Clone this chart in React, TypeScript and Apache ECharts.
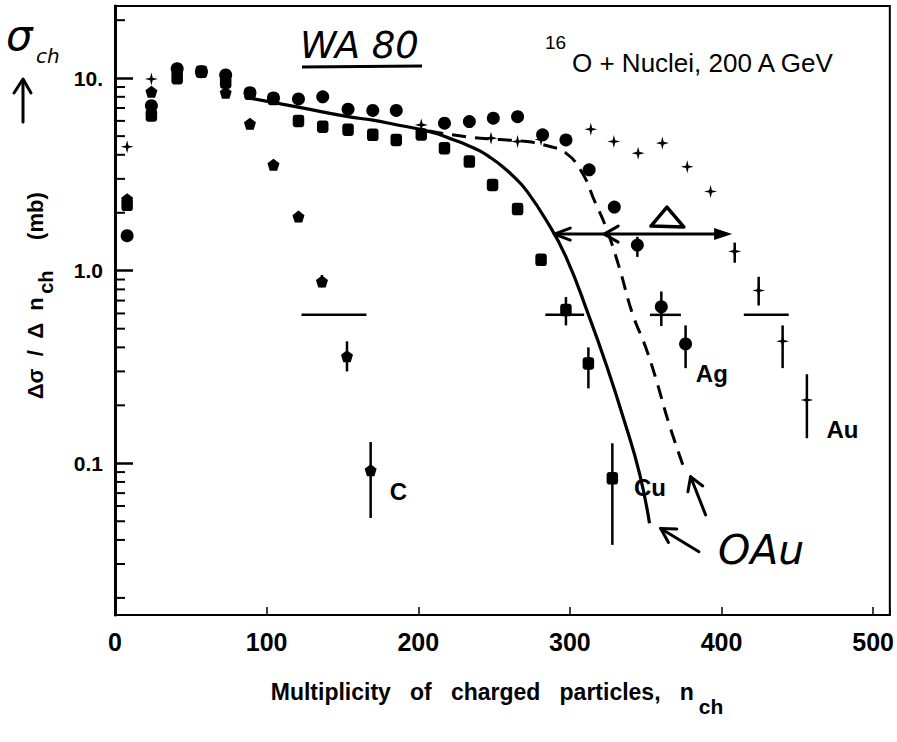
import React, { useEffect, useRef } from 'react';
import * as echarts from 'echarts';

// ---------- axis ----------
const xTickLabels = ['0', '100', '200', '300', '400', '500'];
const yDecades = [0.1, 1, 10];
const yDecadeLabels = ['0.1', '1.0', '10.'];
const yMinorTicks = [0.02, 0.03, 0.04, 0.05, 0.06, 0.07, 0.08, 0.09, 0.2, 0.3, 0.4, 0.5, 0.6, 0.7, 0.8, 0.9, 2, 3, 4, 5, 6, 7, 8, 9, 20];

// ---------- data ----------
const cX = [8, 24, 41, 57, 73, 89, 104.5, 121, 136.5, 153, 168.6];
const cY = [2.35, 8.5, 10.5, 10.8, 8.4, 5.8, 3.55, 1.91, 0.88, 0.36, 0.092];

const cuX = [8, 24, 41, 57, 73, 89, 104.5, 121, 137, 153.7, 170, 185.5, 202, 217.3, 233.7, 249, 265.5, 281, 297.4, 312.2, 328];
const cuY = [2.2, 6.4, 10.0, 10.8, 9.5, 8.3, 7.8, 6.0, 5.6, 5.4, 5.08, 4.78, 5.1, 4.33, 3.69, 2.79, 2.09, 1.14, 0.625, 0.33, 0.0836];

const agX = [8, 24, 41, 57, 73, 89, 104.5, 121, 137, 153.7, 170, 185.5, 217.3, 233.7, 249.5, 265.5, 282, 297.4, 312.7, 329.3, 344.5, 360.3, 376.3];
const agY = [1.52, 7.2, 11.2, 10.8, 10.4, 8.4, 7.9, 7.8, 8.0, 6.9, 6.8, 6.8, 5.84, 5.95, 6.2, 6.31, 5.08, 4.78, 3.34, 2.14, 1.36, 0.65, 0.417];

const auX = [8, 24, 202, 248, 265.5, 281, 313.8, 329, 345, 361, 377.4, 392.8, 408.7, 424.5, 440.3, 456.3];
const auY = [4.4, 9.9, 5.72, 4.88, 4.69, 4.8, 5.43, 4.69, 4.08, 4.6, 3.47, 2.58, 1.26, 0.79, 0.43, 0.213];

// error bars (x, low, high)
const errX = [136.5, 153, 168.6, 297.4, 312.2, 328, 344.5, 360.3, 376.3, 408.7, 424.5, 440.3, 456.3];
const errLo = [0.82, 0.30, 0.052, 0.52, 0.245, 0.0377, 1.18, 0.516, 0.312, 1.1, 0.66, 0.312, 0.135];
const errHi = [0.95, 0.43, 0.129, 0.73, 0.40, 0.127, 1.50, 0.78, 0.52, 1.4, 0.93, 0.52, 0.29];

// horizontal bars (x from, x to) at one level
const barFrom = [123, 283.8, 352.8, 414.7];
const barTo = [165.8, 309.4, 373.2, 444.3];
const barLevel = 0.59;

// curves
const solidX = [89, 120.8, 153.7, 170.1, 185.5, 203, 214, 222.8, 232, 240.3, 248, 255.7, 263.5, 271, 284.2, 297.4, 312.7, 323.7, 335.7, 345.9, 352.5];
const solidY = [7.87, 7.07, 6.31, 6.05, 5.73, 5.39, 5.1, 4.8, 4.5, 4.2, 3.85, 3.47, 3.05, 2.63, 1.84, 1.18, 0.578, 0.33, 0.168, 0.0887, 0.0488];
const dashX = [207.4, 232.4, 253.4, 270, 283, 297.4, 308.3, 316, 323.7, 332.4, 341.2, 350, 356.6, 365.3, 375.2];
const dashY = [5.32, 4.95, 4.8, 4.7, 4.5, 4.08, 3.21, 2.33, 1.69, 1.05, 0.6, 0.4, 0.277, 0.161, 0.0946];

// labels of the nuclei
const nucText = ['C', 'Cu', 'Ag', 'Au'];
const nucX = [187, 352.8, 393.6, 479.8];
const nucY = [0.0718, 0.0753, 0.294, 0.149];

const PENTA = 'path://M5,0 L10,3.8 L8.1,10 L1.9,10 L0,3.8 Z';
const CROSS = 'path://M5,0 L6,4 L10,5 L6,6 L5,10 L4,6 L0,5 L4,4 Z';
const FONT = 'Liberation Sans, Arial, sans-serif';

const zip = (a: number[], b: number[]) => a.map((v, i) => [v, b[i]]);

export default function App() {
  const ref = useRef<HTMLDivElement>(null);
  useEffect(() => {
    document.body.style.margin = '0';
    const chart = echarts.init(ref.current!, null, { renderer: 'svg' });
    const isDecade = (v: number) => Math.abs(Math.log10(v) - Math.round(Math.log10(v))) < 1e-6;
    const mk = { color: '#000', opacity: 1 };
    const option: any = {
      animation: false,
      backgroundColor: '#fff',
      grid: { left: 115, right: 5, top: 6, bottom: 127, show: true, borderColor: '#000', borderWidth: 2, backgroundColor: 'transparent' },
      xAxis: {
        type: 'value', min: 0, max: 511, interval: 100,
        axisLine: { lineStyle: { color: '#000', width: 2 } },
        axisTick: { inside: true, length: 8, lineStyle: { color: '#000', width: 1.5 } },
        splitLine: { show: false },
        axisLabel: {
          color: '#000', fontSize: 25, fontWeight: 'bold', fontFamily: FONT, margin: 14,
          formatter: (v: number) => { const i = Math.round(v / 100); return Math.abs(v - i * 100) < 1e-6 && i < xTickLabels.length ? xTickLabels[i] : ''; },
        },
      },
      yAxis: {
        type: 'log', logBase: 10, min: 0.0163, max: 23.7,
        axisLine: { lineStyle: { color: '#000', width: 3 } },
        axisTick: { inside: true, length: 18, lineStyle: { color: '#000', width: 2.5 } },
        splitLine: { show: false },
        axisLabel: {
          color: '#000', fontSize: 21, fontWeight: 'bold', fontFamily: FONT, margin: 12,
          showMinLabel: false, showMaxLabel: false,
          formatter: (v: number) => {
            if (!isDecade(v)) return '';
            const i = yDecades.findIndex((d) => Math.abs(Math.log10(d) - Math.log10(v)) < 1e-6);
            return i >= 0 ? yDecadeLabels[i] : '';
          },
        },
      },
      series: [
        {
          type: 'custom', name: 'minorTicks', silent: true,
          data: yMinorTicks.map((v) => [0, v]), encode: { x: 0, y: 1 },
          renderItem: (p: any, api: any) => {
            const c = api.coord([0, api.value(1)]);
            return { type: 'line', shape: { x1: c[0], y1: c[1], x2: c[0] + 10, y2: c[1] }, style: { stroke: '#000', lineWidth: 2 } };
          },
        },
        {
          type: 'line', name: 'solid', data: zip(solidX, solidY), smooth: 0.5, showSymbol: false,
          lineStyle: { color: '#000', width: 3.2 }, z: 3,
        },
        {
          type: 'line', name: 'dashed', data: zip(dashX, dashY), smooth: 0.45, showSymbol: false,
          lineStyle: { color: '#000', width: 3, type: [14, 9] }, z: 3,
        },
        {
          type: 'custom', name: 'errors', silent: true,
          data: errX.map((x, i) => [x, errLo[i], errHi[i]]), encode: { x: 0, y: [1, 2] },
          renderItem: (p: any, api: any) => {
            const a = api.coord([api.value(0), api.value(1)]);
            const b = api.coord([api.value(0), api.value(2)]);
            return { type: 'line', shape: { x1: a[0], y1: a[1], x2: b[0], y2: b[1] }, style: { stroke: '#000', lineWidth: 2.5 } };
          },
        },
        {
          type: 'custom', name: 'bars', silent: true,
          data: barFrom.map((x, i) => [x, barTo[i], barLevel]), encode: { x: [0, 1], y: 2 },
          renderItem: (p: any, api: any) => {
            const a = api.coord([api.value(0), api.value(2)]);
            const b = api.coord([api.value(1), api.value(2)]);
            return { type: 'line', shape: { x1: a[0], y1: a[1], x2: b[0], y2: b[1] }, style: { stroke: '#000', lineWidth: 2.5 } };
          },
        },
        { type: 'scatter', name: 'C', data: zip(cX, cY), symbol: PENTA, symbolSize: 12, itemStyle: mk, z: 4 },
        { type: 'scatter', name: 'Cu', data: zip(cuX, cuY), symbol: 'roundRect', symbolSize: [11.5, 12.5], itemStyle: mk, z: 4 },
        { type: 'scatter', name: 'Ag', data: zip(agX, agY), symbol: 'circle', symbolSize: 13, itemStyle: mk, z: 4 },
        { type: 'scatter', name: 'Au', data: zip(auX, auY), symbol: CROSS, symbolSize: 13, itemStyle: mk, z: 4 },
      ],
    };
    chart.setOption(option);

    const P = (x: number, y: number) => chart.convertToPixel({ gridIndex: 0 } as any, [x, y]) as number[];
    const stroke = { stroke: '#000', lineWidth: 3, fill: null, lineCap: 'round', lineJoin: 'round' };
    const chevron = (tip: number[], from: number[], len: number, half: number) => {
      const dx = from[0] - tip[0], dy = from[1] - tip[1];
      const L = Math.hypot(dx, dy);
      const ux = dx / L, uy = dy / L;
      const nx = -uy, ny = ux;
      return [
        [tip[0] + ux * len + nx * half, tip[1] + uy * len + ny * half],
        tip,
        [tip[0] + ux * len - nx * half, tip[1] + uy * len - ny * half],
      ];
    };
    const g: any[] = [];
    // Delta arrow
    const dl = P(289.7, 1.55), dr = P(407, 1.55), dm = P(322.6, 1.55);
    g.push({ type: 'polyline', shape: { points: [dl, [dr[0] - 10, dr[1]]] }, style: stroke, z: 50 });
    g.push({ type: 'polyline', shape: { points: chevron(dl, dr, 16, 6) }, style: stroke, z: 50 });
    g.push({ type: 'polyline', shape: { points: chevron(dm, dr, 14, 8) }, style: stroke, z: 50 });
    g.push({ type: 'polygon', shape: { points: [dr, [dr[0] - 18, dr[1] - 6], [dr[0] - 18, dr[1] + 6]] }, style: { fill: '#000' }, z: 50 });
    // Delta triangle
    const tc = P(364, 1.9);
    g.push({ type: 'polygon', shape: { points: [[tc[0], tc[1] - 10], [tc[0] - 16, tc[1] + 9], [tc[0] + 17, tc[1] + 10]] }, style: { stroke: '#000', lineWidth: 3.5, fill: null, lineJoin: 'round' }, z: 50 });
    // OAu arrows
    const t1 = P(359.9, 0.0459), s1 = P(385.1, 0.0347);
    g.push({ type: 'polyline', shape: { points: [s1, t1] }, style: stroke, z: 50 });
    g.push({ type: 'polyline', shape: { points: chevron(t1, s1, 14, 8) }, style: stroke, z: 50 });
    const t2 = P(379.6, 0.0851), s2 = P(389.5, 0.054);
    g.push({ type: 'polyline', shape: { points: [s2, t2] }, style: stroke, z: 50 });
    g.push({ type: 'polyline', shape: { points: chevron(t2, s2, 13, 8) }, style: stroke, z: 50 });
    // nuclei labels
    nucText.forEach((t, i) => {
      const c = P(nucX[i], nucY[i]);
      g.push({ type: 'text', x: c[0], y: c[1], style: { text: t, fontSize: 24, fontWeight: 'bold', fontFamily: FONT, fill: '#000', align: 'center', verticalAlign: 'middle' }, z: 50 });
    });
    // Title
    g.push({ type: 'text', x: 545, y: 33, style: { text: '16', fontSize: 19, fontFamily: FONT, fill: '#000', align: 'left', verticalAlign: 'top' }, z: 50 });
    g.push({ type: 'text', x: 572, y: 50, style: { text: 'O + Nuclei, 200 A GeV', fontSize: 26, fontFamily: FONT, fill: '#000', align: 'left', verticalAlign: 'top' }, z: 50 });
    // handwritten WA 80
    g.push({ type: 'text', x: 300, y: 27, style: { text: 'WA 80', fontSize: 37, fontFamily: 'DejaVu Sans', fontStyle: 'italic', fill: '#000', align: 'left', verticalAlign: 'top' }, z: 50 });
    g.push({ type: 'line', shape: { x1: 302, y1: 67, x2: 422, y2: 66 }, style: { stroke: '#000', lineWidth: 3 }, z: 50 });
    // OAu
    g.push({ type: 'text', x: 718, y: 529, style: { text: 'OAu', fontSize: 41, fontFamily: 'DejaVu Sans', fontStyle: 'italic', fill: '#000', align: 'left', verticalAlign: 'top' }, z: 50 });
    // sigma_ch with up arrow
    g.push({ type: 'text', x: 6, y: 14, style: { text: 'σ', fontSize: 42, fontFamily: 'DejaVu Sans', fontStyle: 'italic', fill: '#000', align: 'left', verticalAlign: 'top' }, z: 50 });
    g.push({ type: 'text', x: 36, y: 46, style: { text: 'ch', fontSize: 20, fontFamily: 'DejaVu Sans', fontStyle: 'italic', fill: '#000', align: 'left', verticalAlign: 'top' }, z: 50 });
    g.push({ type: 'polyline', shape: { points: [[23, 122], [23, 80]] }, style: stroke, z: 50 });
    g.push({ type: 'polyline', shape: { points: [[14, 93], [23, 79], [31, 93]] }, style: stroke, z: 50 });
    // axis titles
    g.push({
      type: 'text', x: 497, y: 692,
      style: {
        text: 'Multiplicity   of   charged   particles,   n{s|ch}', fontSize: 23, fontWeight: 'bold', fontFamily: FONT, fill: '#000', align: 'center', verticalAlign: 'middle',
        rich: { s: { fontSize: 21, fontWeight: 'bold', fontFamily: FONT, verticalAlign: 'bottom', lineHeight: 50, padding: [0, 0, 0, 5] } },
      }, z: 50,
    });
    g.push({
      type: 'text', x: 35, y: 296, rotation: Math.PI / 2,
      style: {
        text: 'Δσ  /  Δ  n{s|ch}     (mb)', fontSize: 22, fontWeight: 'bold', fontFamily: FONT, fill: '#000', align: 'center', verticalAlign: 'middle',
        rich: { s: { fontSize: 20, fontWeight: 'bold', fontFamily: FONT, verticalAlign: 'bottom', lineHeight: 42, padding: [0, 0, 0, 3] } },
      }, z: 50,
    });
    chart.setOption({ graphic: g });
    return () => chart.dispose();
  }, []);
  return <div ref={ref} style={{ width: 897, height: 742 }} />;
}
